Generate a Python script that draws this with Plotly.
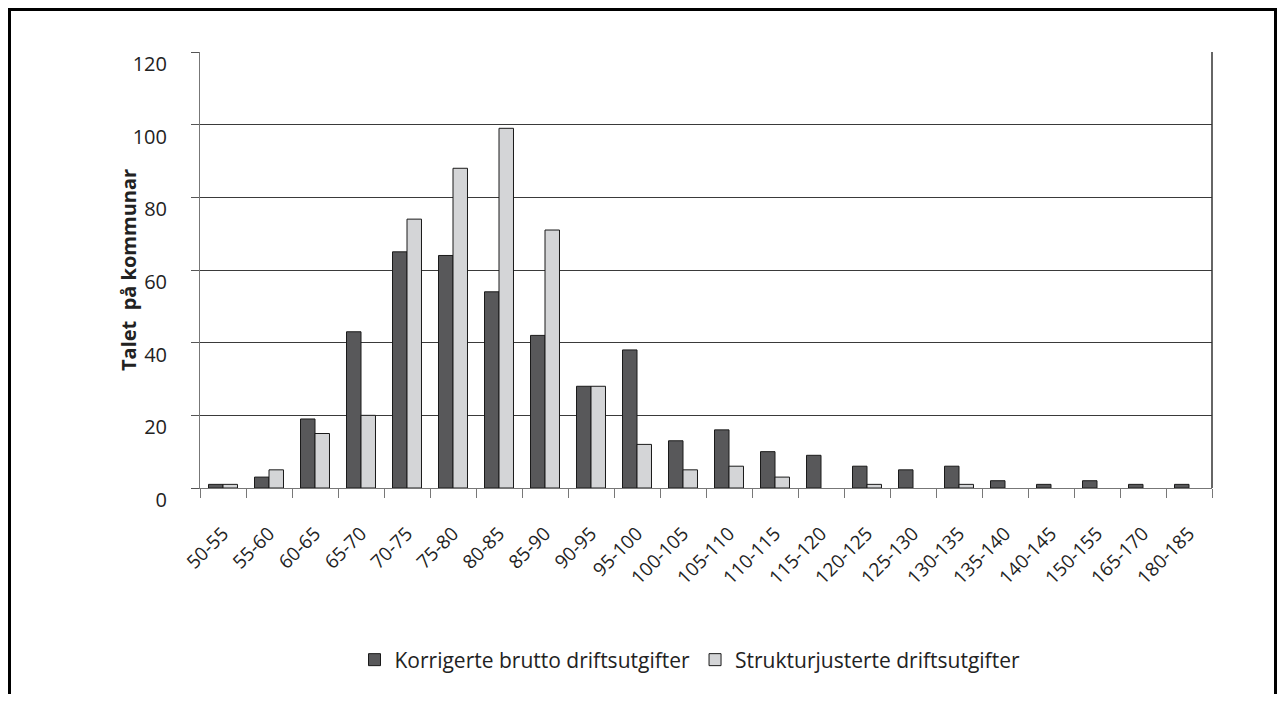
import plotly.graph_objects as go

categories = ["50-55", "55-60", "60-65", "65-70", "70-75", "75-80", "80-85", "85-90",
              "90-95", "95-100", "100-105", "105-110", "110-115", "115-120", "120-125",
              "125-130", "130-135", "135-140", "140-145", "150-155", "165-170", "180-185"]
korrigerte = [1, 3, 19, 43, 65, 64, 54, 42, 28, 38, 13, 16, 10, 9, 6, 5, 6, 2, 1, 2, 1, 1]
struktur = [1, 5, 15, 20, 74, 88, 99, 71, 28, 12, 5, 6, 3, 0, 1, 0, 1, 0, 0, 0, 0, 0]
series_names = ["Korrigerte brutto driftsutgifter", "Strukturjusterte driftsutgifter"]
y_ticks = [0, 20, 40, 60, 80, 100, 120]
y_title = "Talet  på kommunar"

FONT = "Open Sans"
OFF = 8  # page body margin
W, H = 1285 - 2 * OFF, 702 - 2 * OFF
# plot area in screen pixels, converted to figure pixels
L, R, T, B = 200 - OFF, 1212 - OFF, 52 - OFF, 488 - OFF

def outline(vals):
    return [1 if v > 0 else 0 for v in vals]

fig = go.Figure()
fig.add_trace(go.Bar(x=categories, y=korrigerte, name=series_names[0],
                     marker=dict(color="#58585a",
                                 line=dict(color="#1a1a1a", width=outline(korrigerte)))))
fig.add_trace(go.Bar(x=categories, y=struktur, name=series_names[1],
                     marker=dict(color="#d4d5d7",
                                 line=dict(color="#1a1a1a", width=outline(struktur)))))

pw = R - L
ph = B - T
def px(sx):
    return (sx - OFF - L) / pw
def py(sy):
    return (B - (sy - OFF)) / ph

fig.update_layout(
    width=W, height=H,
    margin=dict(l=L, r=W - R, t=T, b=H - B, autoexpand=False),
    paper_bgcolor="white", plot_bgcolor="white",
    barmode="group", bargap=0.37, bargroupgap=0,
    font=dict(family=FONT, size=18, color="#222"),
    showlegend=True,
    legend=dict(orientation="h", x=px(690), xanchor="center", y=py(660), yanchor="middle",
                font=dict(family=FONT, size=21, color="#222"), traceorder="normal",
                itemwidth=30, bgcolor="rgba(0,0,0,0)"),
    xaxis=dict(type="category", tickangle=-45, tickson="boundaries", ticks="outside",
               ticklen=9, tickcolor="#777", showline=True, linecolor="#777", linewidth=1,
               showgrid=False, automargin=False, ticklabelstandoff=26,
               tickfont=dict(family=FONT, size=19, color="#222")),
    yaxis=dict(range=[0, 120], tickvals=y_ticks, ticks="outside", ticklen=8,
               tickcolor="#555", showline=True, linecolor="#777", linewidth=1,
               showgrid=True, gridcolor="#3a3a3a", gridwidth=1, zeroline=False,
               automargin=False,
               tickfont=dict(family=FONT, size=20, color="#222"), ticklabelshift=12,
               ticklabelstandoff=20),
    annotations=[
        dict(text="<b>" + y_title + "</b>", xref="paper", yref="paper",
             x=px(128), y=py(270), xanchor="center", yanchor="middle", textangle=-90,
             showarrow=False, font=dict(family=FONT, size=20, color="#222")),
    ],
    shapes=[
        dict(type="line", xref="paper", yref="paper", x0=1, x1=1, y0=0, y1=1,
             line=dict(color="#333", width=1.5)),
        dict(type="rect", xref="paper", yref="paper",
             x0=px(9.5), x1=px(W + OFF - 1.5), y0=py(800), y1=py(9.5),
             line=dict(color="black", width=3), fillcolor="rgba(0,0,0,0)", layer="above"),
    ],
)

fig.write_html("out.html")
